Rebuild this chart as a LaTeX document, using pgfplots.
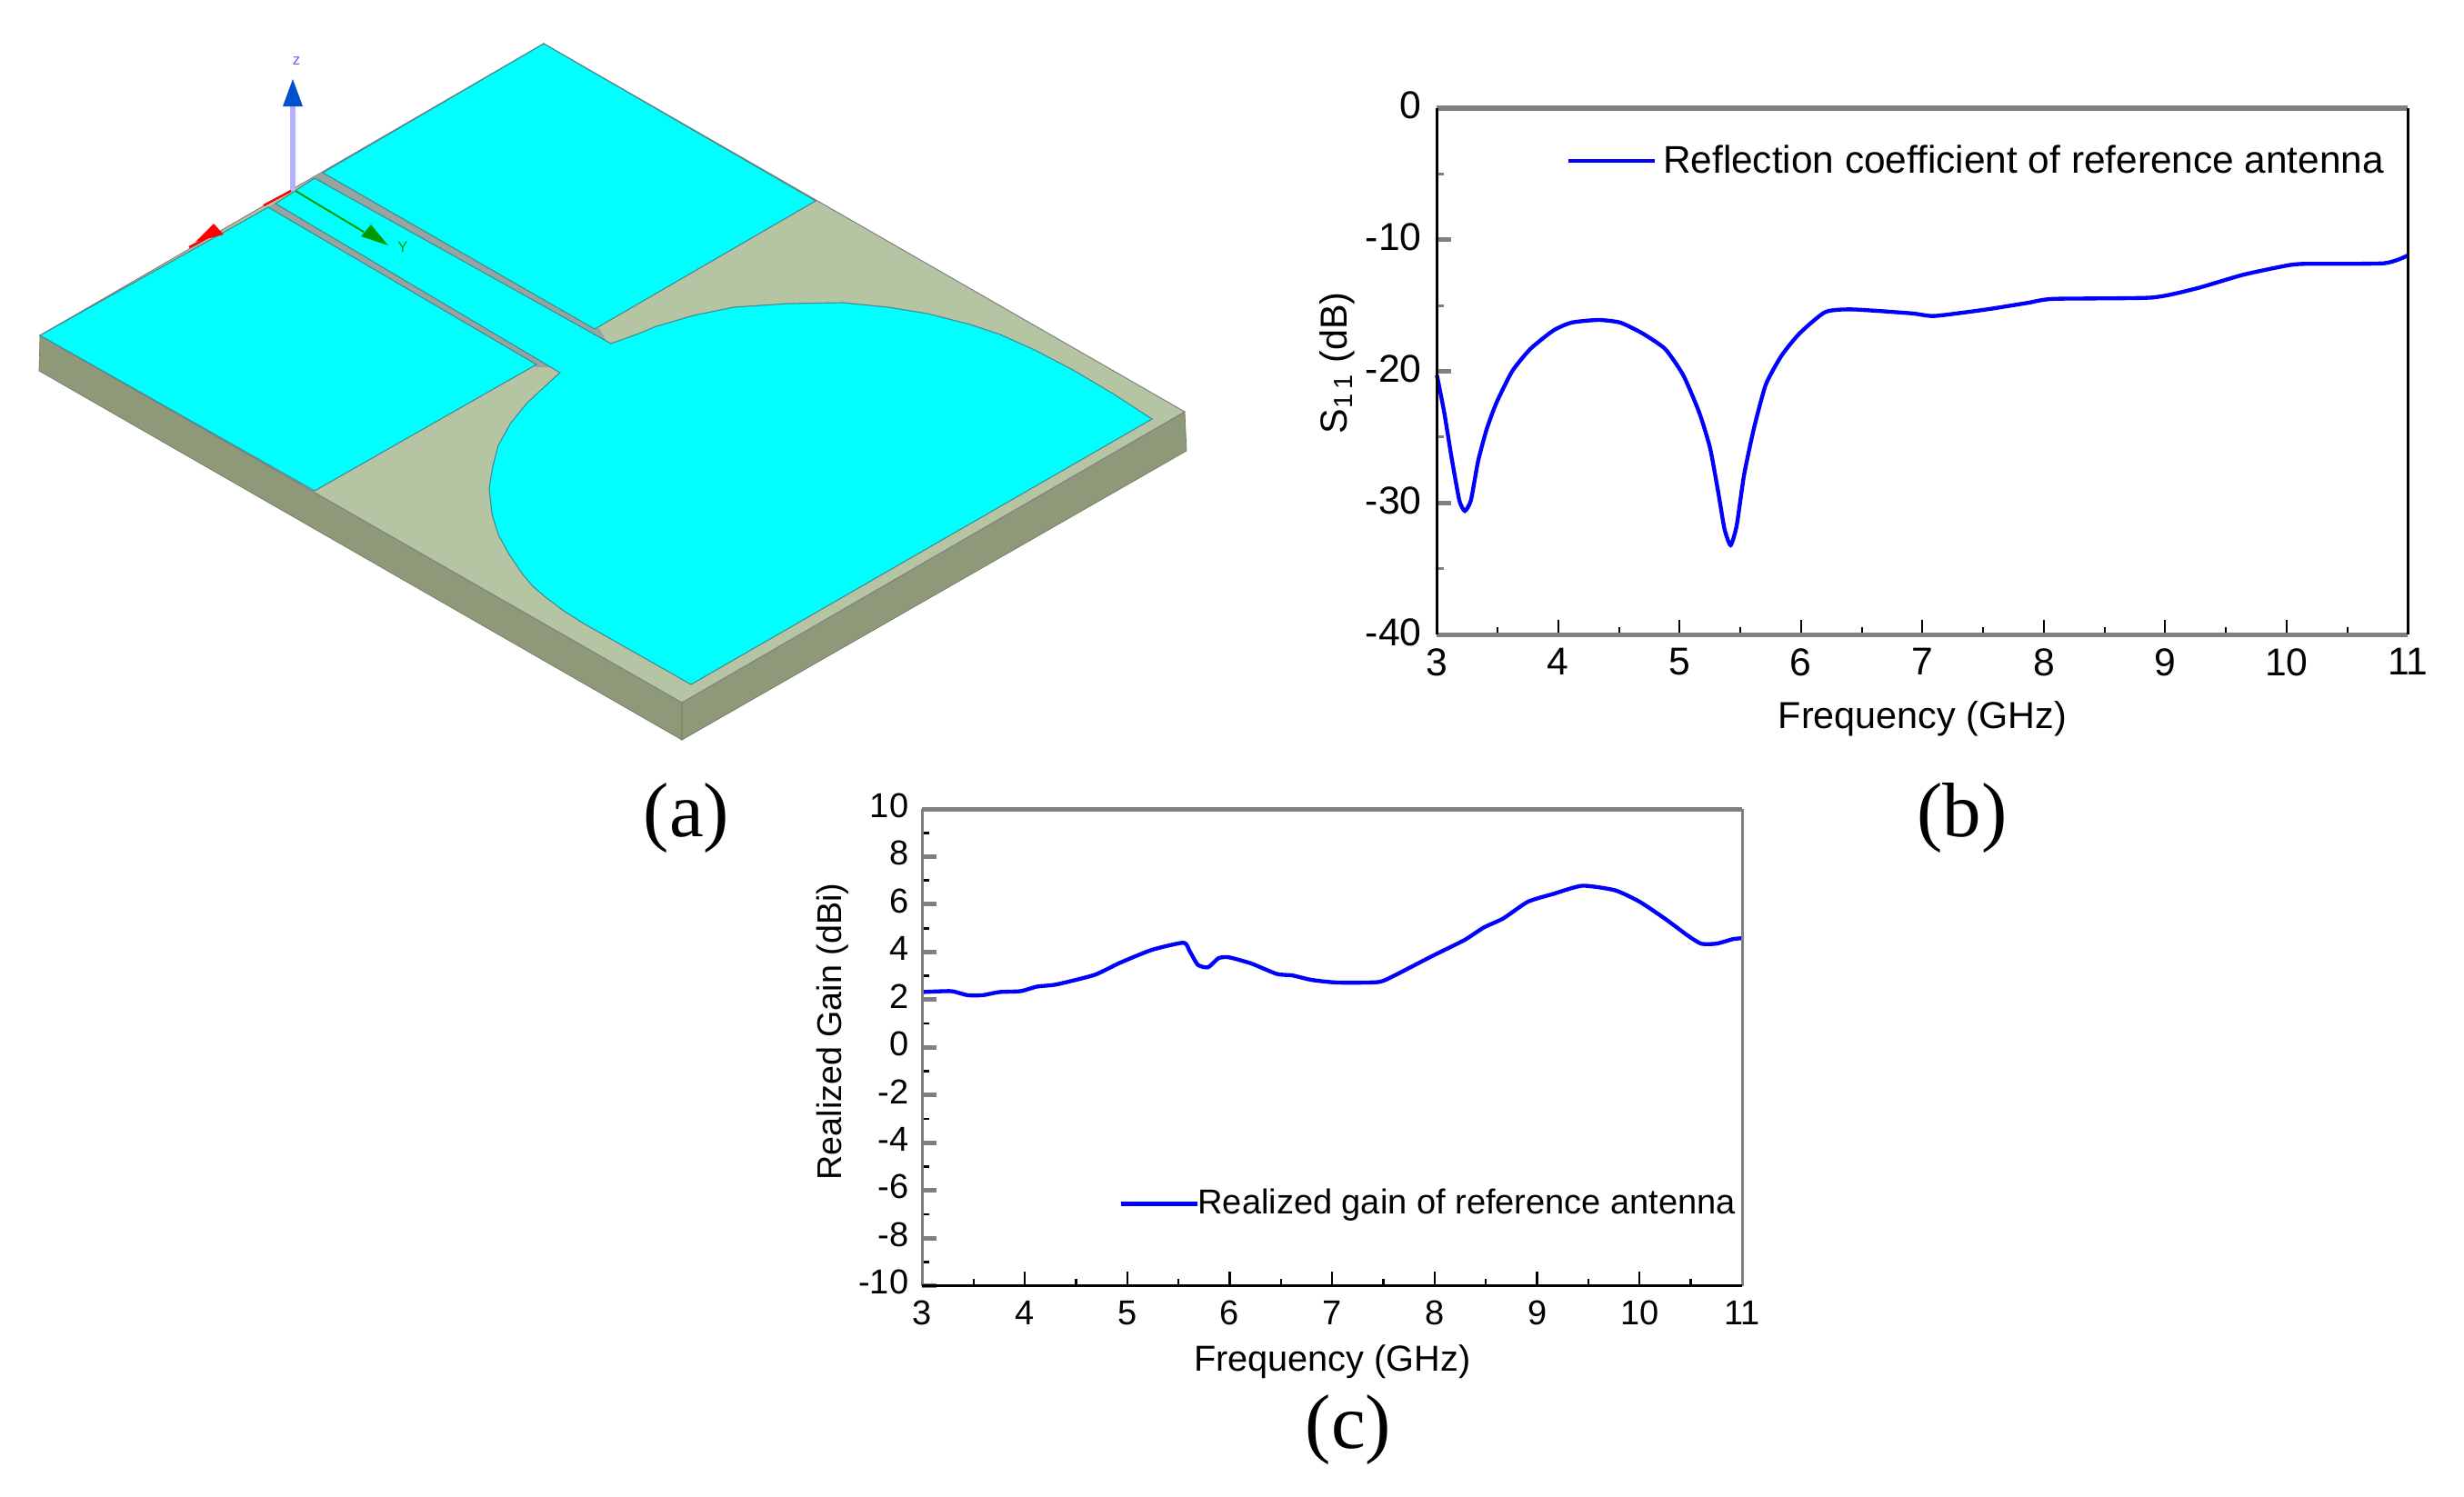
\documentclass[border=0pt]{standalone}
\usepackage{fontspec}
\setmainfont{Liberation Sans}
\newfontfamily\timesfont{Liberation Serif}
\usepackage{pgfplots}
\pgfplotsset{compat=1.18}
\definecolor{patch}{RGB}{0,255,255}
\definecolor{patchedge}{RGB}{70,140,145}
\definecolor{subtop}{RGB}{181,196,163}
\definecolor{subside}{RGB}{142,153,122}
\definecolor{slotgray}{RGB}{150,165,160}
\definecolor{axisgray}{RGB}{128,128,128}
\pgfplotsset{
  curve/.style={blue,line width=1.3pt,no markers,smooth,tension=.35},
  sheet/.style={tick align=inside,xtick pos=bottom,ytick pos=left,
    scale only axis,anchor=south west,xmin=3,xmax=11,xtick={3,...,11},
    minor x tick num=1,minor y tick num=1,
    major tick length=4.8pt,minor tick length=2.4pt,
    axis line style={draw=none},clip=false,
    /pgf/number format/assume math mode=true,
    legend cell align=left},
}
\begin{document}
\begin{tikzpicture}
\useasboundingbox (0,0) rectangle (813pt,493.8pt);
% antenna drawing, in reference pixels
\begin{axis}[at={(0,0)},anchor=south west,scale only axis,width=813pt,height=493.8pt,
  xmin=0,xmax=2710,ymin=0,ymax=1646,y dir=reverse,hide axis,clip=false,no markers]
\addplot[fill=subside,draw=subside!80!black,line width=.2pt] coordinates {(44,369) (750,773) (750,814) (43,408)} --cycle;
\addplot[fill=subside,draw=subside!80!black,line width=.2pt] coordinates {(750,773) (1303,453) (1305,496) (750,814)} --cycle;
\addplot[fill=subtop,draw=gray,line width=.3pt] coordinates {(44,369) (598,48) (1303,453) (750,773)} --cycle;
\addplot[fill=slotgray,draw=none] coordinates {(340,198) (360,186) (660,362) (668,378)} --cycle;
\addplot[fill=slotgray,draw=none] coordinates {(293,229) (305,222) (610,404) (590,404)} --cycle;
\addplot[fill=patch,draw=patchedge,line width=.35pt] coordinates {(355,190) (598,48) (897,221) (654,362)} --cycle;
\addplot[fill=patch,draw=patchedge,line width=.35pt] coordinates {(44,369) (295,228) (590,401) (346,540)} --cycle;
\addplot[fill=patch,draw=patchedge,line width=.35pt] coordinates {
  (303,224) (346,196) (672,378) (700,368) (722,359) (763,347) (807,338) (867,334)
  (927,333) (977,338) (1020,345) (1067,357) (1100,368) (1138,385) (1180,407) (1224,433) (1267,461)
  (760,753) (642,686) (620,672) (600,657) (586,645) (575,632) (560,610) (548,588) (541,565)
  (538,537) (542,513) (548,490) (562,465) (580,443) (607,418) (616,410)} --cycle;
% coordinate triad
\addplot[draw=blue!30!white,line width=1.6pt] coordinates {(322,210) (322,115)};
\addplot[fill=blue!60!cyan!80!black,draw=none] coordinates {(322,87) (333,117) (311,117)} --cycle;
\addplot[draw=red,line width=.7pt] coordinates {(320,210) (290,226)};
\addplot[draw=red,line width=.7pt] coordinates {(240,255) (208,272)};
\addplot[fill=red,draw=none] coordinates {(215,266) (235,246) (246,258)} --cycle;
\addplot[draw=green!60!black,line width=.6pt] coordinates {(325,210) (400,255)};
\addplot[fill=green!60!black,draw=none] coordinates {(427,270) (408,247) (397,260)} --cycle;
\node[font=\fontsize{5}{6}\selectfont,text=blue!60] at (axis cs:326,67) {z};
\node[font=\fontsize{5}{6}\selectfont,text=green!60!black] at (axis cs:443,272) {Y};
% panel letters
\node[font=\timesfont\fontsize{25.5}{30}\selectfont] at (axis cs:755,900) {(a)};
\node[font=\timesfont\fontsize{25.5}{30}\selectfont] at (axis cs:2158,900) {(b)};
\node[font=\timesfont\fontsize{25.5}{30}\selectfont] at (axis cs:1483,1573) {(c)};
\end{axis}
% reflection coefficient
\begin{axis}[sheet,at={(474.1pt,284.3pt)},width=320.4pt,height=173.9pt,
  ymin=-40,ymax=0,ytick={-40,-30,-20,-10,0},
  ticklabel style={font=\fontsize{12.8}{15}\selectfont},
  xticklabel style={yshift=-1pt},
  yticklabel style={xshift=-1.5pt,yshift=.8pt},
  major y tick style={axisgray,line width=1.7pt},
  minor y tick style={axisgray,line width=.9pt},
  x tick style={black,line width=.6pt},
  xlabel={Frequency (GHz)},ylabel={S\textsubscript{1\,1} (dB)},
  every axis x label/.style={at={(axis description cs:.5,-.16)},anchor=center,font=\fontsize{12.4}{15}\selectfont},
  every axis y label/.style={at={(axis description cs:-.103,.516)},rotate=90,anchor=center,font=\fontsize{12.4}{15}\selectfont},
  legend style={draw=none,fill=none,at={(axis description cs:.9816,.899)},anchor=east,
    font=\fontsize{12.71}{15}\selectfont,inner sep=0pt,outer sep=0pt},
  legend image code/.code={\draw[#1] (0pt,0pt) -- (28.6pt,0pt);}]
\addplot[curve] coordinates {
 (3,-20.3) (3.06,-23.1) (3.12,-26.5) (3.185,-29.8) (3.23,-30.6) (3.28,-29.8) (3.34,-26.8)
 (3.41,-24.4) (3.49,-22.4) (3.62,-20) (3.77,-18.3) (3.96,-16.9) (4.11,-16.3) (4.33,-16.1)
 (4.51,-16.3) (4.69,-17.1) (4.88,-18.3) (5.03,-20.3) (5.16,-23.1) (5.25,-25.8) (5.32,-29.3)
 (5.37,-32) (5.42,-33.2) (5.47,-31.7) (5.53,-27.9) (5.61,-24.4) (5.71,-21) (5.84,-18.8)
 (5.99,-17.1) (6.2,-15.5) (6.42,-15.3) (6.91,-15.6) (7.1,-15.8) (7.53,-15.3) (7.87,-14.8)
 (8.08,-14.5) (8.89,-14.4) (9.26,-13.7) (9.63,-12.7) (9.93,-12.1) (10.12,-11.85) (10.8,-11.8) (11,-11.2)};
\addlegendentry{Reflection coefficient of reference antenna}
\draw[axisgray,line width=1.8pt] (rel axis cs:0,1) -- (rel axis cs:1,1);
\draw[axisgray,line width=1.5pt] (rel axis cs:0,0) -- (rel axis cs:1,0);
\draw[black,line width=.75pt] (rel axis cs:0,0) -- (rel axis cs:0,1);
\draw[black,line width=.75pt] (rel axis cs:1,0) -- (rel axis cs:1,1);
\end{axis}
% realized gain
\begin{axis}[sheet,at={(304.3pt,69.4pt)},width=270.5pt,height=157.4pt,
  ymin=-10,ymax=10,ytick={-10,-8,...,10},
  ticklabel style={font=\fontsize{11.4}{14}\selectfont},
  xticklabel style={yshift=-1.5pt},
  yticklabel style={xshift=-1pt,yshift=1.2pt},
  major y tick style={axisgray,line width=1.5pt},
  minor y tick style={black,line width=.8pt},
  x tick style={black,line width=.7pt},
  xlabel={Frequency (GHz)},ylabel={Realized Gain (dBi)},
  every axis x label/.style={at={(axis description cs:.5,-.16)},anchor=center,font=\fontsize{11.9}{14}\selectfont},
  every axis y label/.style={at={(axis description cs:-.109,.533)},rotate=90,anchor=center,font=\fontsize{11.3}{14}\selectfont},
  legend style={draw=none,fill=none,at={(axis description cs:.9996,.172)},anchor=east,
    font=\fontsize{11.4}{14}\selectfont,inner sep=0pt,outer sep=0pt},
  legend image code/.code={\draw[#1,overlay] (0pt,0pt) -- (25.4pt,0pt); \path (0pt,0pt) -- (22.8pt,0pt);}]
\addplot[curve] coordinates {
 (3,2.32) (3.28,2.36) (3.44,2.19) (3.59,2.19) (3.75,2.32) (3.96,2.36) (4.12,2.55) (4.31,2.64)
 (4.68,3.04) (4.93,3.55) (5.24,4.09) (5.55,4.39) (5.61,4.03) (5.69,3.46) (5.79,3.36) (5.89,3.74)
 (5.99,3.78) (6.21,3.52) (6.46,3.08) (6.61,3.02) (6.8,2.83) (7.05,2.72) (7.45,2.74) (7.61,3.02)
 (7.98,3.84) (8.29,4.5) (8.48,5.03) (8.67,5.41) (8.91,6.11) (9.16,6.44) (9.44,6.78) (9.76,6.59)
 (10,6.11) (10.25,5.39) (10.47,4.69) (10.6,4.35) (10.75,4.35) (10.91,4.54) (11,4.58)};
\addlegendentry{Realized gain of reference antenna}
\draw[axisgray,line width=1.5pt] (rel axis cs:0,1) -- (rel axis cs:1,1);
\draw[axisgray,line width=.9pt] (rel axis cs:1,0) -- (rel axis cs:1,1);
\draw[axisgray,line width=.8pt] (rel axis cs:0,0) -- (rel axis cs:0,1);
\draw[black,line width=.8pt] (rel axis cs:0,0) -- (rel axis cs:1,0);
\end{axis}
\end{tikzpicture}
\end{document}
